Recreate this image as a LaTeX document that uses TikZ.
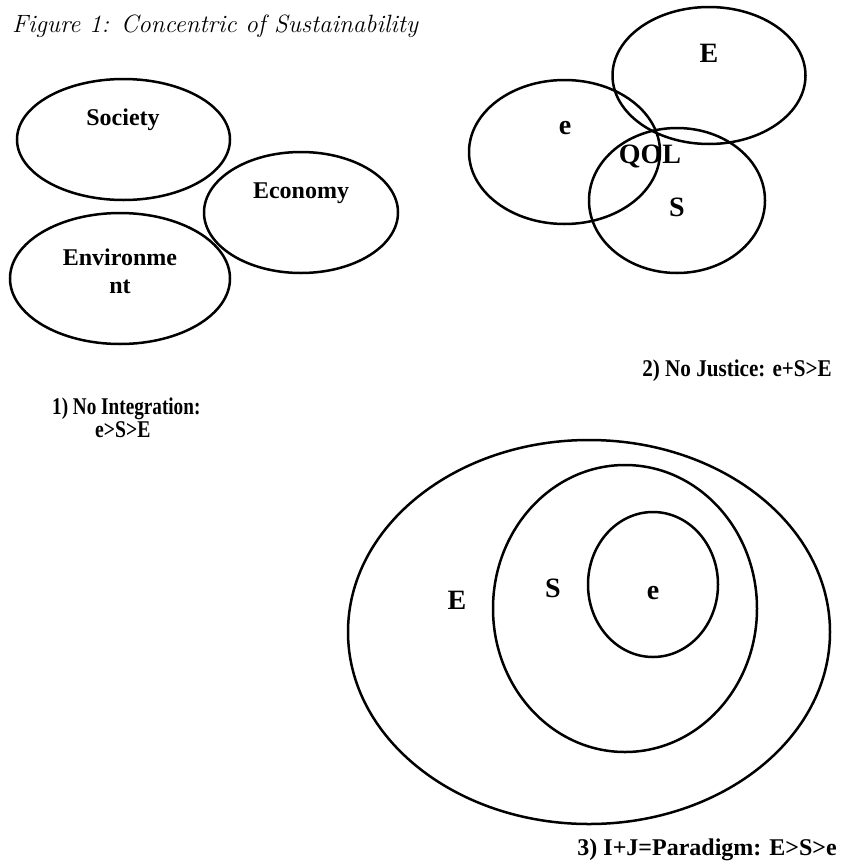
\documentclass[tikz,border=0pt]{standalone}
\usepackage{fontspec}
\newfontfamily\tnr{Liberation Serif}
\begin{document}
\begin{tikzpicture}[x=1pt,y=-1pt,
  ring/.style={line width=2.5pt},
  lbl/.style={font=\tnr\bfseries\fontsize{24}{27}\selectfont, inner sep=0pt},
  big/.style={font=\tnr\bfseries\fontsize{28}{31}\selectfont, inner sep=0pt},
  captxt/.style={font=\tnr\bfseries\fontsize{24}{26}\selectfont, inner sep=0pt}]
\useasboundingbox (0,0) rectangle (841,865);
% title
\node[anchor=west, inner sep=0pt, font=\itshape\fontsize{25}{28}\selectfont] (title) at (12,26) {Figure 1: Concentric of Sustainability};
% panel 1
\draw[ring] (123.5,139.5) ellipse [x radius=106.5, y radius=60.5];
\draw[ring] (301,212.5) ellipse [x radius=97, y radius=60.5];
\draw[ring] (120,278.5) ellipse [x radius=110, y radius=65.5];
\node[lbl] (soc) at (123,120) {Society};
\node[lbl] (eco) at (301,193) {Economy};
\node[lbl, align=center, font=\tnr\bfseries\fontsize{24}{28}\selectfont] (env) at (120,271) {Environme\\nt};
% panel 2
\draw[ring] (709,75.5) ellipse [x radius=96.5, y radius=68.5];
\draw[ring] (564.5,152) ellipse [x radius=95.5, y radius=72];
\draw[ring] (677,200.5) ellipse [x radius=88, y radius=72.5];
\node[big] (E2) at (709,53) {E};
\node[big] (e2) at (565,128) {e};
\node[big] (qol) at (650,156) {QOL};
\node[big] (S2) at (677,207) {S};
% captions
\node[captxt, anchor=east, xscale=0.88] (c2) at (832,371) {2) No Justice: e+S>E};
\node[captxt, anchor=west, xscale=0.8] (c1) at (52,409) {1) No Integration:};
\node[captxt, anchor=west, xscale=0.82] (c1b) at (95,430) {e>S>E};
% panel 3
\draw[ring] (589,632) ellipse [x radius=241, y radius=192];
\draw[ring] (625,608.5) ellipse [x radius=132, y radius=143.5];
\draw[ring] (653,584.5) ellipse [x radius=65, y radius=72.5];
\node[big] (E3) at (457,600) {E};
\node[big] (S3) at (553,588) {S};
\node[big] (e3) at (653,593) {e};
\node[captxt, anchor=east] (c3) at (837,850) {3) I+J=Paradigm: E>S>e};
\end{tikzpicture}
\end{document}
